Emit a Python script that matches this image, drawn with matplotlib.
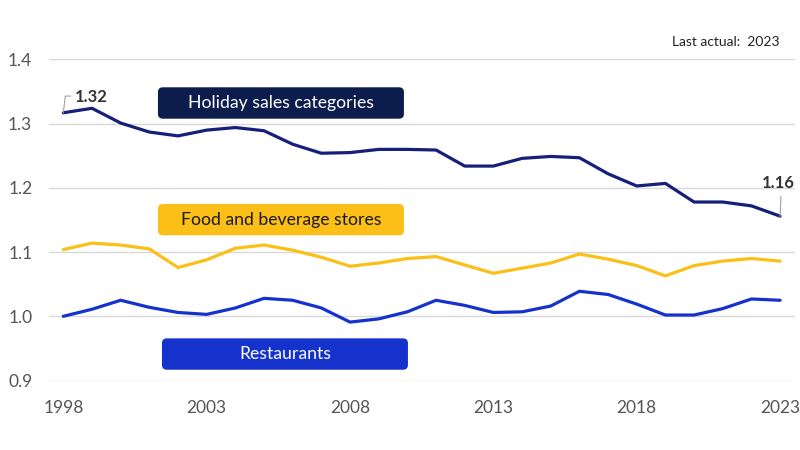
import matplotlib
matplotlib.use("Agg")
import matplotlib.pyplot as plt
from matplotlib.patches import FancyBboxPatch
import numpy as np

plt.rcParams['font.family'] = ['Lato', 'DejaVu Sans']

years = list(range(1998, 2024))
holiday = [1.317, 1.324, 1.301, 1.287, 1.281, 1.290, 1.294, 1.289, 1.268, 1.254,
           1.255, 1.260, 1.260, 1.259, 1.234, 1.234, 1.246, 1.249, 1.247, 1.222,
           1.203, 1.207, 1.178, 1.178, 1.172, 1.156]
food = [1.104, 1.114, 1.111, 1.105, 1.076, 1.088, 1.106, 1.111, 1.103, 1.092,
        1.078, 1.083, 1.090, 1.093, 1.080, 1.067, 1.075, 1.083, 1.097, 1.089,
        1.079, 1.063, 1.079, 1.086, 1.090, 1.086]
restaurants = [1.000, 1.011, 1.025, 1.014, 1.006, 1.003, 1.013, 1.028, 1.025, 1.013,
               0.991, 0.996, 1.007, 1.025, 1.017, 1.006, 1.007, 1.016, 1.039, 1.034,
               1.019, 1.002, 1.002, 1.012, 1.027, 1.025]
series_names = ["Holiday sales categories", "Food and beverage stores", "Restaurants"]
xticks = [1998, 2003, 2008, 2013, 2018, 2023]
yticks = [0.9, 1.0, 1.1, 1.2, 1.3, 1.4]
start_label = "1.32"
end_label = "1.16"
note = "Last actual:  2023"

NAVY_LINE = "#16207a"
NAVY_BOX = "#0c1d4d"
YELLOW = "#fcbf18"
BLUE = "#1533cc"

fig = plt.figure(figsize=(8, 4.5), dpi=100)
ax = fig.add_axes([0.06125, 0.1544, 0.9325, 0.7134])
ax.set_xlim(1997.5, 2023.52)
ax.set_ylim(0.9, 1.4)

ax.plot(years, holiday, color=NAVY_LINE, lw=2.3, clip_on=False, zorder=3, solid_capstyle='round')
ax.plot(years, food, color=YELLOW, lw=2.3, clip_on=False, zorder=3, solid_capstyle='round')
ax.plot(years, restaurants, color=BLUE, lw=2.3, clip_on=False, zorder=3, solid_capstyle='round')

ax.set_yticks(yticks)
ax.set_yticklabels([f"{v:.1f}" for v in yticks])
ax.set_xticks(xticks)
ax.set_xticklabels([str(v) for v in xticks])
ax.tick_params(axis='y', length=0, pad=12, labelsize=12.5, labelcolor="#555555")
ax.tick_params(axis='x', length=0, pad=14, labelsize=12.5, labelcolor="#555555")
ax.grid(axis='y', color="#d9d9d9", lw=1)
ax.set_axisbelow(True)
for s in ax.spines.values():
    s.set_visible(False)

# label boxes
aspect = (1 / 642) / (1 / 28.68)
boxes = [
    (series_names[0], 2001.30, 1.3078, 2009.88, 1.3567, NAVY_BOX),
    (series_names[1], 2001.30, 1.1262, 2009.88, 1.1749, YELLOW),
    (series_names[2], 2001.44, 0.9168, 2010.02, 0.9657, BLUE),
]
text_colors = ["white", "#1a1a1a", "white"]
for (name, x0, y0, x1, y1, col), tc in zip(boxes, text_colors):
    p = FancyBboxPatch((x0, y0), x1 - x0, y1 - y0,
                       boxstyle="round,pad=0,rounding_size=0.17",
                       mutation_aspect=aspect, fc=col, ec='none', zorder=4)
    ax.add_patch(p)
    ax.text((x0 + x1) / 2, (y0 + y1) / 2, name, ha='center', va='center',
            color=tc, fontsize=12.7, zorder=5)

# value annotations with leader lines
ax.plot([years[0], years[0] + 0.07, years[0] + 0.25], [holiday[0], 1.343, 1.343],
        color="#a0a0a0", lw=0.8, zorder=6, clip_on=False)
ax.text(1998.41, 1.342, start_label, fontsize=12, fontweight='bold', color="#333333",
        ha='left', va='center', zorder=6)
ax.plot([years[-1], years[-1] + 0.03], [holiday[-1], 1.187],
        color="#a0a0a0", lw=0.8, zorder=6, clip_on=False)
ax.text(2022.95, 1.2076, end_label, fontsize=12, fontweight='bold', color="#333333",
        ha='center', va='center', zorder=6)

fig.text(672 / 800, 1 - 41.7 / 450, note, fontsize=10, color="#222222", ha='left', va='center')

fig.savefig("out.png", dpi=100)
